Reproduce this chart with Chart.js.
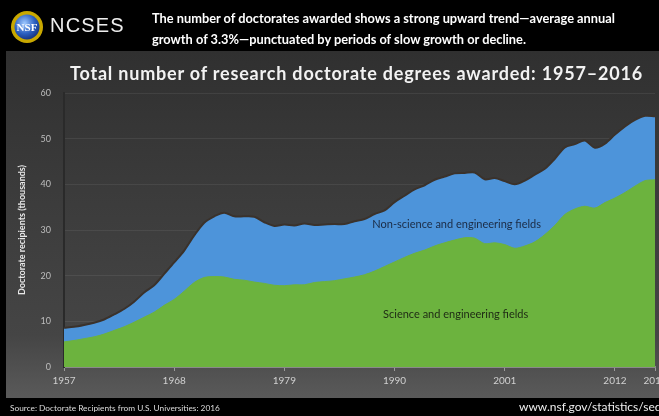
<!DOCTYPE html>
<html>
<head>
<meta charset="utf-8">
<script src="https://cdn.jsdelivr.net/npm/chart.js@4.4.1/dist/chart.umd.min.js"></script>
<style>
html, body { margin: 0; padding: 0; background: #000; }
#wrap { position: relative; width: 659px; height: 416px; overflow: hidden; background: #000; font-family: Lato, "Open Sans", sans-serif; }
#panel { position: absolute; left: 6px; top: 51px; width: 653px; height: 347px;
  background: linear-gradient(to bottom, #303030 0%, #3b3b3b 40%, #454545 82%, #5a5a5a 100%); }
#chart { position: absolute; left: 0; top: 0; }
#logo { position: absolute; left: 10px; top: 10px; }
#ncses { position: absolute; left: 50px; top: 14px; color: #eee; font-family: "Liberation Sans", sans-serif; font-size: 20px; letter-spacing: 1.2px; }
#lede { position: absolute; left: 152px; top: 8px; color: #fff; font-weight: bold; font-size: 12.8px; line-height: 21px; white-space: nowrap; }
#title { position: absolute; left: 70px; top: 62px; color: #f2f2f2; font-weight: bold; font-size: 18px; line-height: 22px; letter-spacing: 0.8px; white-space: nowrap; }
#source { position: absolute; left: 10px; top: 403px; color: #ddd; font-size: 8.3px; white-space: nowrap; }
#url { position: absolute; left: 519px; top: 399px; color: #eee; font-size: 12px; white-space: nowrap; }
</style>
</head>
<body>
<div id="wrap">
  <div id="panel"></div>
  <canvas id="chart" width="659" height="416"></canvas>
  <svg id="logo" width="34" height="34" viewBox="0 0 34 34">
    <defs>
      <radialGradient id="g" cx="40%" cy="35%" r="70%">
        <stop offset="0%" stop-color="#9ec8ff"/>
        <stop offset="60%" stop-color="#2a5fc0"/>
        <stop offset="100%" stop-color="#14307a"/>
      </radialGradient>
    </defs>
    <circle cx="17" cy="17" r="16" fill="#c9a800"/>
    <circle cx="17" cy="17" r="12.5" fill="url(#g)"/>
    <text x="17" y="21" text-anchor="middle" font-family="Liberation Serif" font-weight="bold" font-size="11" fill="#fff">NSF</text>
  </svg>
  <div id="ncses">NCSES</div>
  <div id="lede">The number of doctorates awarded shows a strong upward trend—average annual<br>growth of 3.3%—punctuated by periods of slow growth or decline.</div>
  <div id="title">Total number of research doctorate degrees awarded: 1957–2016</div>
  <div id="source">Source: Doctorate Recipients from U.S. Universities: 2016</div>
  <div id="url">www.nsf.gov/statistics/sed</div>
</div>
<script>
const years = [
  1957, 1958, 1959, 1960, 1961, 1962, 1963, 1964, 1965, 1966,
  1967, 1968, 1969, 1970, 1971, 1972, 1973, 1974, 1975, 1976,
  1977, 1978, 1979, 1980, 1981, 1982, 1983, 1984, 1985, 1986,
  1987, 1988, 1989, 1990, 1991, 1992, 1993, 1994, 1995, 1996,
  1997, 1998, 1999, 2000, 2001, 2002, 2003, 2004, 2005, 2006,
  2007, 2008, 2009, 2010, 2011, 2012, 2013, 2014, 2015, 2016
];
// all fields (top of the blue area), thousands
const totalDoctorates = [
  8.6, 8.8, 9.2, 9.7, 10.4, 11.5, 12.7, 14.3, 16.3, 17.9,
  20.4, 22.9, 25.5, 28.8, 31.6, 33.0, 33.8, 33.0, 33.0, 32.9,
  31.7, 30.9, 31.2, 31.0, 31.4, 31.1, 31.2, 31.3, 31.3, 31.9,
  32.4, 33.5, 34.3, 36.1, 37.5, 38.9, 39.8, 41.0, 41.7, 42.4,
  42.5, 42.6, 41.1, 41.4, 40.7, 40.0, 40.8, 42.1, 43.4, 45.6,
  48.1, 48.8, 49.6, 48.0, 48.9, 50.9, 52.7, 54.1, 55.0, 54.9
];
// science and engineering fields (top of the green area), thousands
const seDoctorates = [
  5.5, 5.8, 6.2, 6.6, 7.2, 8.0, 8.8, 9.8, 10.9, 12.0,
  13.5, 14.8, 16.6, 18.5, 19.6, 19.8, 19.7, 19.2, 19.0, 18.6,
  18.3, 17.9, 17.8, 18.0, 18.0, 18.5, 18.7, 18.9, 19.3, 19.7,
  20.2, 21.0, 22.0, 23.0, 24.0, 24.9, 25.6, 26.5, 27.2, 27.8,
  28.3, 28.2, 27.0, 27.2, 26.8, 26.0, 26.5, 27.4, 29.0, 31.0,
  33.4, 34.6, 35.2, 34.8, 36.0, 37.0, 38.2, 39.6, 40.8, 41.0
];
const tickYears = [1957, 1968, 1979, 1990, 2001, 2012, 2016];
const areaLabels = [
  { text: "Non-science and engineering fields", year: 1996.2, value: 31.3, color: "#1b2b44" },
  { text: "Science and engineering fields", year: 1996.1, value: 11.4, color: "#1e2a14" }
];

const areaText = {
  id: "areaText",
  afterDatasetsDraw(chart) {
    const { ctx, scales } = chart;
    ctx.save();
    ctx.font = "11px Lato";
    ctx.textAlign = "center";
    ctx.textBaseline = "middle";
    areaLabels.forEach(l => {
      ctx.fillStyle = l.color;
      ctx.fillText(l.text, scales.x.getPixelForValue(l.year), scales.y.getPixelForValue(l.value));
    });
    ctx.restore();
  }
};

new Chart(document.getElementById("chart"), {
  type: "line",
  data: {
    datasets: [
      {
        label: "Science and engineering fields",
        data: years.map((y, i) => ({ x: y, y: seDoctorates[i] })),
        backgroundColor: "#6cb33e",
        borderColor: "#6cb33e",
        borderWidth: 1,
        fill: "origin",
        pointRadius: 0,
        tension: 0.3,
        order: 1
      },
      {
        label: "All fields",
        data: years.map((y, i) => ({ x: y, y: totalDoctorates[i] })),
        backgroundColor: "#4d94da",
        borderColor: "#3a322c",
        borderWidth: 2,
        fill: "origin",
        pointRadius: 0,
        tension: 0.3,
        order: 2
      }
    ]
  },
  options: {
    responsive: false,
    animation: false,
    layout: { padding: { left: 17, right: 4, top: 93, bottom: 18 } },
    plugins: {
      legend: { display: false },
      tooltip: { enabled: false },
      title: { display: false }
    },
    scales: {
      x: {
        type: "linear",
        min: 1957,
        max: 2016,
        afterBuildTicks: axis => { axis.ticks = tickYears.map(v => ({ value: v })); },
        afterFit: axis => { axis.height = 31; axis.paddingLeft = 0; axis.paddingRight = 0; },
        ticks: {
          color: "#d0d0d0",
          font: { family: "Lato", size: 10 },
          padding: 4,
          maxRotation: 0,
          autoSkip: false,
          callback: v => String(v)
        },
        grid: { display: true, drawOnChartArea: false, color: "#9a9a9a", tickLength: 4 },
        border: { color: "#8a8a8a", width: 2 }
      },
      y: {
        min: 0,
        max: 60,
        afterFit: axis => { axis.width = 47; },
        ticks: {
          stepSize: 10,
          color: "#bdbdbd",
          font: { family: "Lato", size: 9 },
          padding: 13
        },
        grid: { color: "rgba(255,255,255,0.07)", drawTicks: false },
        border: { display: true, color: "#2a2a2a", width: 2 },
        title: {
          display: true,
          text: "Doctorate recipients (thousands)",
          color: "#e8e8e8",
          font: { family: "Lato", size: 9, weight: "bold" },
          padding: 0
        }
      }
    }
  },
  plugins: [areaText]
});
</script>
</body>
</html>
